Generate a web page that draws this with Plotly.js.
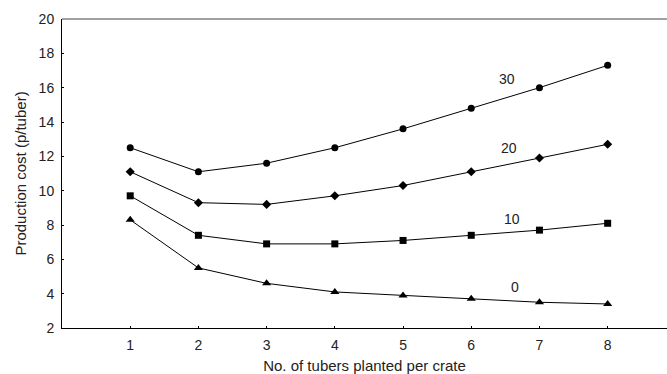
<!DOCTYPE html>
<html>
<head>
<meta charset="utf-8">
<script src="https://cdn.plot.ly/plotly-3.0.1.min.js"></script>
<style>html,body{margin:0;padding:0;background:#fff;}#chart{width:667px;height:374px;}</style>
</head>
<body>
<div id="chart"></div>
<script>
const tubers = [1, 2, 3, 4, 5, 6, 7, 8];
const cost30 = [12.5, 11.1, 11.6, 12.5, 13.6, 14.8, 16.0, 17.3];
const cost20 = [11.1, 9.3, 9.2, 9.7, 10.3, 11.1, 11.9, 12.7];
const cost10 = [9.7, 7.4, 6.9, 6.9, 7.1, 7.4, 7.7, 8.1];
const cost0 = [8.3, 5.5, 4.6, 4.1, 3.9, 3.7, 3.5, 3.4];
const seriesLabels = ['30', '20', '10', '0'];
const labelX = [6.52, 6.55, 6.6, 6.64];
const labelY = [16.5, 12.5, 8.35, 4.4];

const series = [cost30, cost20, cost10, cost0];
const symbols = ['circle', 'diamond', 'square', 'triangle-up'];
const sizes = [7, 7, 7, 8];

const traces = series.map((ys, i) => ({
  x: tubers, y: ys, type: 'scatter', mode: 'lines+markers',
  line: {color: '#000', width: 1},
  marker: {symbol: symbols[i], size: sizes[i], color: '#000'},
  showlegend: false, hoverinfo: 'skip'
}));

const annotations = seriesLabels.map((t, i) => ({
  x: labelX[i], y: labelY[i], text: t, showarrow: false,
  font: {family: 'Liberation Sans, Arial, sans-serif', size: 14, color: '#222'}
}));

const layout = {
  width: 667, height: 374,
  margin: {l: 62, r: 0, t: 19, b: 46},
  paper_bgcolor: '#fff', plot_bgcolor: '#fff',
  font: {family: 'Liberation Sans, Arial, sans-serif', size: 14, color: '#222'},
  xaxis: {
    range: [0, 8.87], tickvals: tubers, ticktext: tubers.map(String),
    showgrid: false, zeroline: false, showline: true, linecolor: '#000', linewidth: 1,
    ticks: 'inside', ticklen: 2, tickcolor: '#000',
    tickfont: {size: 14}, ticklabelstandoff: 4,
    title: {text: 'No. of tubers planted per crate', font: {size: 15}, standoff: 8}
  },
  yaxis: {
    range: [2, 20], tickvals: [2, 4, 6, 8, 10, 12, 14, 16, 18, 20],
    showgrid: false, zeroline: false, showline: true, linecolor: '#000', linewidth: 1,
    ticks: 'inside', ticklen: 2, tickcolor: '#000',
    tickfont: {size: 14}, ticklabelstandoff: 4,
    title: {text: 'Production cost (p/tuber)', font: {size: 15}, standoff: 8}
  },
  shapes: [{type: 'line', xref: 'paper', yref: 'paper', x0: 0, x1: 1, y0: 1, y1: 1,
    line: {color: '#808080', width: 1.5}}],
  annotations: annotations
};

Plotly.newPlot('chart', traces, layout, {displayModeBar: false, staticPlot: true});
</script>
</body>
</html>
